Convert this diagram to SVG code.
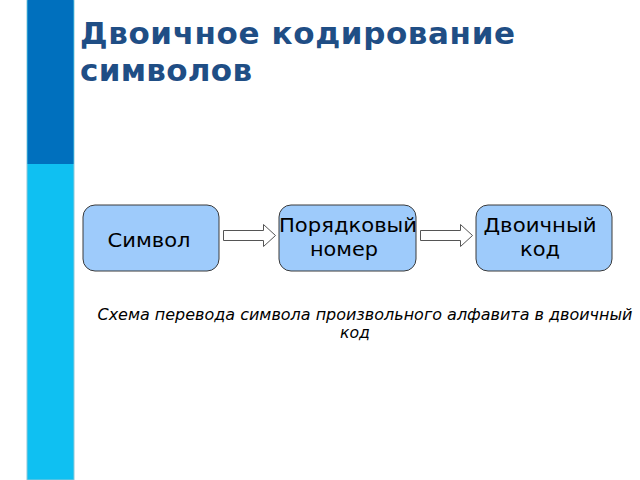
<svg xmlns="http://www.w3.org/2000/svg" width="640" height="480" viewBox="0 0 640 480">
<style>
.box{fill:#9ECBFB;stroke:#3A3A3A;stroke-width:1}
.lbl{font-family:"DejaVu Sans",sans-serif;font-size:20px;fill:#000;text-anchor:middle}
.arr{fill:#fff;stroke:#555;stroke-width:1}
.ttl{font-family:"DejaVu Sans",sans-serif;font-weight:bold;font-size:31px;fill:#1F4E85}
.cap{font-family:"DejaVu Sans",sans-serif;font-style:italic;font-size:15px;fill:#000;text-anchor:middle}
</style>
<rect width="640" height="480" fill="#fff"/>
<rect x="27" y="0" width="47" height="480" fill="#0FC0F2" stroke="#8FC8D8" stroke-width="1"/>
<rect x="27.5" y="0" width="46" height="164" fill="#0070BE"/>
<text class="ttl" x="80" y="44" textLength="435" lengthAdjust="spacing">Двоичное кодирование</text>
<text class="ttl" x="80" y="81" textLength="172" lengthAdjust="spacing">символов</text>
<g id="node-symbol">
<rect class="box" x="83" y="205" width="136" height="66" rx="12"/>
<text class="lbl" x="149" y="247" textLength="83" lengthAdjust="spacingAndGlyphs">Символ</text>
</g>
<g id="node-ordinal">
<rect class="box" x="279" y="205" width="137" height="66" rx="12"/>
<text class="lbl" x="348" y="232" textLength="138" lengthAdjust="spacingAndGlyphs">Порядковый</text>
<text class="lbl" x="344" y="256" textLength="68" lengthAdjust="spacingAndGlyphs">номер</text>
</g>
<g id="node-binary">
<rect class="box" x="476" y="205" width="136" height="66" rx="12"/>
<text class="lbl" x="540" y="232" textLength="113" lengthAdjust="spacingAndGlyphs">Двоичный</text>
<text class="lbl" x="540" y="256" textLength="40" lengthAdjust="spacingAndGlyphs">код</text>
</g>
<g id="connectors">
<path class="arr" d="M223.5 230.5 H263.5 V224.5 L275.5 235.5 L263.5 246.5 V240.5 H223.5 Z"/>
<path class="arr" d="M420.5 230.5 H460.5 V224.5 L472.5 235.5 L460.5 246.5 V240.5 H420.5 Z"/>
</g>
<text class="cap" x="365" y="320" textLength="535" lengthAdjust="spacingAndGlyphs">Схема перевода символа произвольного алфавита в двоичный</text>
<text class="cap" x="355" y="338" textLength="30" lengthAdjust="spacingAndGlyphs">код</text>
</svg>
